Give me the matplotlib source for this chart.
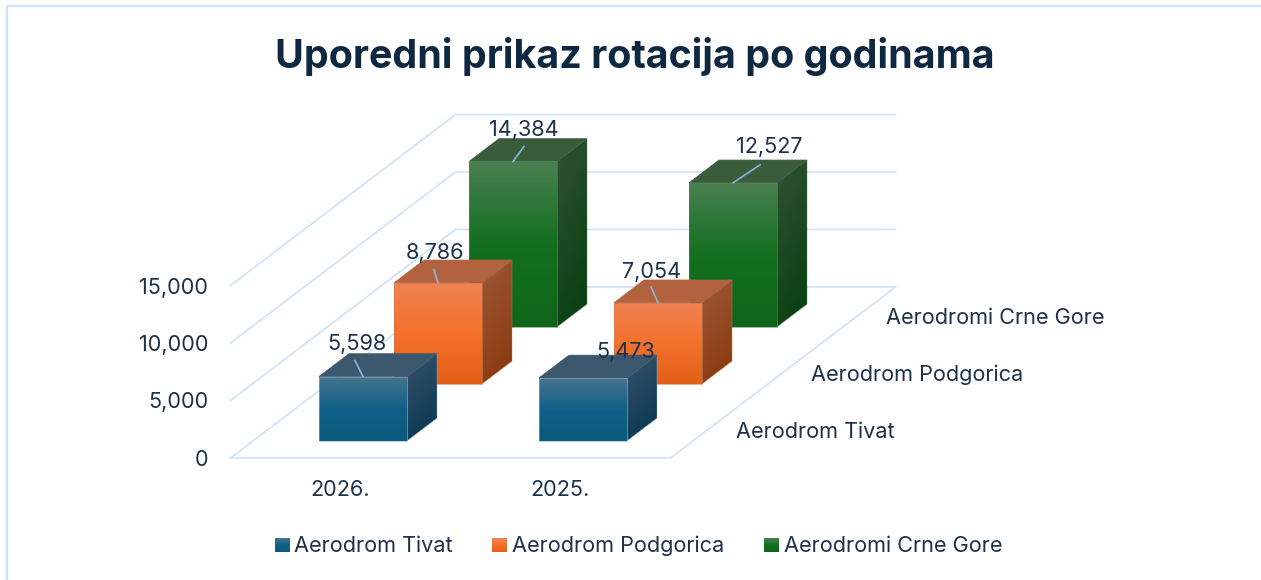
import numpy as np
import matplotlib
matplotlib.use("Agg")
import matplotlib.pyplot as plt
from matplotlib.colors import LinearSegmentedColormap, to_rgb
from matplotlib.patches import Polygon

# ---- data ----
title = "Uporedni prikaz rotacija po godinama"
years = ["2026.", "2025."]
series_names = ["Aerodrom Tivat", "Aerodrom Podgorica", "Aerodromi Crne Gore"]
tivat = [5598, 5473]
podgorica = [8786, 7054]
crne_gora = [14384, 12527]
value_ticks = [0, 5000, 10000, 15000]

# ---- style ----
plt.rcParams["font.family"] = ["Inter", "DejaVu Sans"]
FS = 15.6
TEXT = "#1d3149"
TITLE = "#0e2841"
GRID = "#cfe2f6"
LEADER = "#86b6e2"
PALETTE = [
    dict(front=["#47748f", "#0f6088", "#0c5a7c"], side=["#38536b", "#04344f"], top="#3c586e", edge="#8fb2c9"),
    dict(front=["#f18254", "#f4712b", "#e25f18"], side=["#9c5836", "#8a370c"], top="#b2623f", edge="#c9794f"),
    dict(front=["#4a8052", "#13701f", "#10651a"], side=["#2f5233", "#063e0e"], top="#3a5c3a", edge="#4f8a58"),
]
# label / leader offsets from each bar's top-front centre, px (series, year)
LABEL_OFF = [[(-6, -35), (43, -28)], [(-3, -32), (-6, -33)], [(11, -33), (36, -38)]]
LEADER_OFF = [[(-8, -16), None], [(-4, -13), (-7, -16)], [(11, -15), (27, -18)]]

ORIGIN = (230.5, 458.0)
CAT_W = 220.0
DEPTH = (75.0, 57.0)
PX_PER_UNIT = 172.5 / 15000.0
BAR_LO, BAR_HI = 0.3, 0.7


def proj(c, d, v=0.0):
    return (ORIGIN[0] + CAT_W * c + DEPTH[0] * d,
            ORIGIN[1] - DEPTH[1] * d - PX_PER_UNIT * v)


fig = plt.figure(figsize=(12.61, 5.80), dpi=100, facecolor="white")
ax = fig.add_axes([0, 0, 1, 1])
ax.set_xlim(0, 1261)
ax.set_ylim(580, 0)
ax.axis("off")


def grad_poly(pts, colors, z, diag=0.0, edge=None, elw=0.5):
    pts = np.array(pts)
    x0, y0 = pts.min(axis=0)
    x1, y1 = pts.max(axis=0)
    cmap = LinearSegmentedColormap.from_list("g", [to_rgb(c) for c in colors])
    yy, xx = np.mgrid[0:1:128j, 0:1:64j]
    im = ax.imshow((1 - diag) * yy + diag * xx, cmap=cmap, vmin=0, vmax=1,
                   extent=(x0, x1, y1, y0), origin="upper", aspect="auto",
                   interpolation="bilinear", zorder=z)
    clip = Polygon(pts, closed=True, transform=ax.transData, fc="none", ec="none")
    ax.add_patch(clip)
    im.set_clip_path(clip)
    if edge:
        ax.add_patch(Polygon(pts, closed=True, fc="none", ec=edge, lw=elw, zorder=z + 0.1))


# frame
ax.plot([6.5, 6.5, 1261], [580, 5.5, 5.5], color=GRID, lw=1.6, zorder=0)

# walls and floor
n_cat = len(years)
for v in value_ticks:
    ax.plot(*zip(proj(0, 0, v), proj(0, 3, v), proj(n_cat, 3, v)), color=GRID, lw=1.2, zorder=1)
ax.plot(*zip(proj(0, 0), proj(n_cat, 0), proj(n_cat, 3)), color=GRID, lw=1.2, zorder=1)

# bars, back to front
all_series = [tivat, podgorica, crne_gora]
z = 2.0
for d in (2, 1, 0):
    for c in range(n_cat):
        v = all_series[d][c]
        p = PALETTE[d]
        a, b = BAR_LO, BAR_HI
        front = [proj(c + a, d + a, v), proj(c + b, d + a, v), proj(c + b, d + a, 0), proj(c + a, d + a, 0)]
        side = [proj(c + b, d + a, v), proj(c + b, d + b, v), proj(c + b, d + b, 0), proj(c + b, d + a, 0)]
        top = [proj(c + a, d + a, v), proj(c + a, d + b, v), proj(c + b, d + b, v), proj(c + b, d + a, v)]
        grad_poly(side, p["side"], z, diag=0.25, edge=p["edge"], elw=0.3)
        ax.add_patch(Polygon(top, closed=True, fc=p["top"], ec=p["top"], lw=0.5, zorder=z + 0.2))
        grad_poly(front, p["front"], z + 0.3, edge=p["edge"], elw=0.4)
        cx, cy = proj(c + 0.5, d + a, v)
        off = LEADER_OFF[d][c]
        if off is not None:
            ax.plot([cx, cx + off[0]], [cy, cy + off[1]], color=LEADER, lw=1.2, zorder=z + 0.5)
        z += 1

# value labels on top
for d in range(3):
    for c in range(n_cat):
        v = all_series[d][c]
        cx, cy = proj(c + 0.5, d + BAR_LO, v)
        ox, oy = LABEL_OFF[d][c]
        ax.text(cx + ox, cy + oy, f"{v:,}", ha="center", va="center_baseline", fontsize=FS, color=TEXT, zorder=50)

# axis labels
for v in value_ticks:
    x, y = proj(0, 0, v)
    ax.text(x - 22, y, f"{v:,}", ha="right", va="center_baseline", fontsize=FS, color=TEXT)
for c, lab in enumerate(years):
    x, y = proj(c + 0.5, 0, 0)
    ax.text(x, y + 30, lab, ha="center", va="center_baseline", fontsize=FS, color=TEXT)
for d, lab in enumerate(series_names):
    x, y = proj(n_cat, d + 0.5, 0)
    ax.text(x + 28, y, lab, ha="left", va="center_baseline", fontsize=FS, color=TEXT)

# title
ax.text(635, 52, title, ha="center", va="center_baseline", fontsize=28.4, fontweight="bold", color=TITLE)

# legend
for x_sw, lab, p in zip((275, 492, 764), series_names, PALETTE):
    grad_poly([(x_sw, 538), (x_sw + 15, 538), (x_sw + 15, 552), (x_sw, 552)], p["front"], 60)
    ax.text(x_sw + 19.5, 544, lab, ha="left", va="center_baseline", fontsize=FS, color=TEXT)

ax.set_xlim(0, 1261)
ax.set_ylim(580, 0)
fig.savefig("out.png", dpi=100, facecolor="white")
